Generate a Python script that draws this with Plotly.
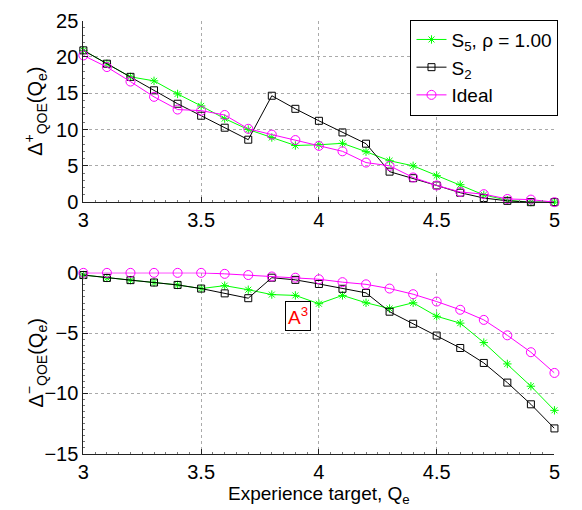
import plotly.graph_objects as go

qe = [3.0, 3.1, 3.2, 3.3, 3.4, 3.5, 3.6, 3.7, 3.8, 3.9, 4.0,
      4.1, 4.2, 4.3, 4.4, 4.5, 4.6, 4.7, 4.8, 4.9, 5.0]

plus_s5 = [20.9, 19.06, 17.25, 16.7, 14.9, 13.25, 11.5, 10.0, 8.9, 7.8, 7.9,
           8.1, 6.95, 5.7, 5.0, 3.65, 2.4, 1.0, 0.26, 0.0, 0.0]
plus_s2 = [20.9, 19.06, 17.25, 15.4, 13.55, 11.9, 10.25, 8.6, 14.65, 12.85, 11.2,
           9.6, 8.05, 4.2, 3.3, 2.3, 1.3, 0.57, 0.18, 0.0, 0.0]
plus_ideal = [20.2, 18.6, 16.6, 14.5, 12.75, 12.6, 12.0, 10.1, 9.3, 8.55, 7.75,
              7.0, 5.45, 5.0, 3.4, 2.3, 1.4, 1.1, 0.44, 0.35, 0.0]

minus_s5 = [-0.18, -0.42, -0.6, -0.8, -1.0, -1.3, -1.06, -1.4, -1.8, -1.87, -2.56,
            -1.87, -2.48, -2.96, -2.48, -3.6, -4.17, -5.78, -7.55, -9.4, -11.4]
minus_s2 = [-0.18, -0.42, -0.6, -0.8, -1.0, -1.3, -1.7, -2.1, -0.4, -0.58, -0.92,
            -1.32, -1.66, -3.22, -4.22, -5.2, -6.23, -7.47, -9.1, -10.9, -12.9]
minus_ideal = [0.0, 0.0, 0.0, 0.0, 0.0, 0.0, -0.08, -0.18, -0.3, -0.4, -0.53,
               -0.77, -0.95, -1.3, -1.77, -2.38, -3.06, -3.9, -5.18, -6.58, -8.3]

x_ticks = [3, 3.5, 4, 4.5, 5]
x_tick_labels = ["3", "3.5", "4", "4.5", "5"]
top_y_ticks = [0, 5, 10, 15, 20, 25]
bot_y_ticks = [-15, -10, -5, 0]
bot_y_tick_labels = ["\u221215", "\u221210", "\u22125", "0"]

names = ["S<sub>5</sub>, \u03c1 = 1.00", "S<sub>2</sub>", "Ideal"]
colors = ["#00ff00", "#000000", "#ff00ff"]
symbols = ["asterisk-open", "square-open", "circle-open"]
msizes = [7, 7, 9]

FONT = "Liberation Sans, Arial, Helvetica, sans-serif"

fig = go.Figure()

for i, ys in enumerate([plus_s5, plus_s2, plus_ideal]):
    fig.add_trace(go.Scatter(
        x=qe, y=ys, mode="lines+markers", name=names[i],
        line=dict(color=colors[i], width=1),
        marker=dict(symbol=symbols[i], size=msizes[i], color=colors[i],
                    line=dict(color=colors[i], width=1)),
        cliponaxis=False, xaxis="x", yaxis="y", showlegend=True))

for i, ys in enumerate([minus_s5, minus_s2, minus_ideal]):
    fig.add_trace(go.Scatter(
        x=qe, y=ys, mode="lines+markers", name=names[i],
        line=dict(color=colors[i], width=1),
        marker=dict(symbol=symbols[i], size=msizes[i], color=colors[i],
                    line=dict(color=colors[i], width=1)),
        cliponaxis=False, xaxis="x2", yaxis="y2", showlegend=False))

W, H = 582, 510
xdom = [79 / W, 560 / W]
top_dom = [1 - 200 / H, 1 - 10 / H]
bot_dom = [1 - 462.7 / H, 1 - 273.3 / H]

axis_common = dict(
    showline=True, linecolor="#222", linewidth=1, mirror=False,
    ticks="inside", ticklen=5, tickcolor="#222",
    showgrid=True, gridcolor="#aaa", griddash="dot", gridwidth=1,
    zeroline=False,
    minor=dict(ticks="inside", ticklen=2, tickcolor="#777", showgrid=False),
    tickfont=dict(family=FONT, size=20, color="black"),
)

fig.update_layout(
    width=W, height=H,
    margin=dict(l=0, r=0, t=0, b=0),
    paper_bgcolor="white", plot_bgcolor="white",
    font=dict(family=FONT, size=19, color="black"),
    xaxis=dict(domain=xdom, anchor="y", range=[3, 5], tickvals=x_ticks,
               ticktext=x_tick_labels, minor_dtick=0.05, **axis_common),
    yaxis=dict(domain=top_dom, anchor="x", range=[-0.03, 25], tickvals=top_y_ticks,
               minor_dtick=1, **axis_common),
    xaxis2=dict(domain=xdom, anchor="y2", range=[3, 5], tickvals=x_ticks,
                ticktext=x_tick_labels, minor_dtick=0.05,
                title=dict(text="Experience target, Q<sub>e</sub>",
                           font=dict(family=FONT, size=19), standoff=2),
                **axis_common),
    yaxis2=dict(domain=bot_dom, anchor="x2", range=[-15, 0.03], tickvals=bot_y_ticks,
                ticktext=bot_y_tick_labels, minor_dtick=0.5, **axis_common),
    legend=dict(x=413 / W, y=1 - 9 / H, xanchor="left", yanchor="top",
                bgcolor="white", bordercolor="black", borderwidth=1,
                font=dict(family=FONT, size=19), tracegroupgap=0,
                itemwidth=30),
    showlegend=True,
)

fig.add_annotation(xref="paper", yref="paper", x=30 / W, y=1 - 105 / H,
                   text="\u0394<sup>+</sup><sub>QOE</sub>(Q<sub>e</sub>)",
                   textangle=-90, showarrow=False, xanchor="center", yanchor="middle",
                   font=dict(family=FONT, size=20))
fig.add_annotation(xref="paper", yref="paper", x=30 / W, y=1 - 368 / H,
                   text="\u0394<sup>\u2212</sup><sub>QOE</sub>(Q<sub>e</sub>)",
                   textangle=-90, showarrow=False, xanchor="center", yanchor="middle",
                   font=dict(family=FONT, size=20))
fig.add_annotation(xref="x2", yref="y2", x=3.9125, y=-3.54,
                   text="A<sup>3</sup>", showarrow=False,
                   font=dict(family=FONT, size=19, color="red"),
                   bgcolor="white", bordercolor="black", borderwidth=1, borderpad=2)

fig.write_html("out.html")
